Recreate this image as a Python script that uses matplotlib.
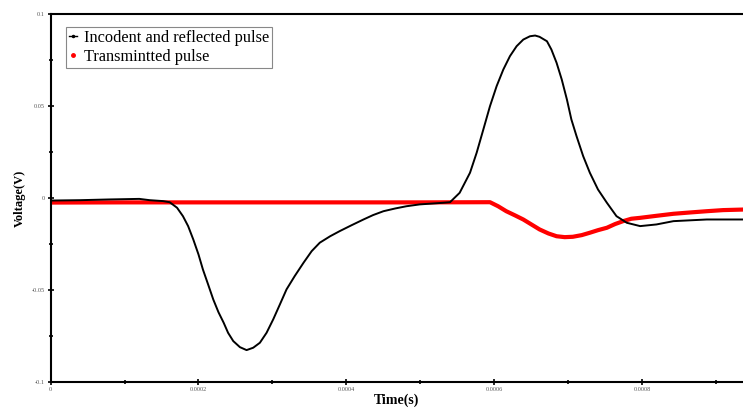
import numpy as np
import matplotlib
matplotlib.use("Agg")
import matplotlib.pyplot as plt
from matplotlib.lines import Line2D

# =============================================================================
# datos
# =============================================================================
t_inc = [0.0, 0.00004, 0.00008, 0.00012, 0.000134, 0.000152, 0.000161, 0.000171,
         0.000179, 0.000186, 0.000193, 0.0002, 0.000206, 0.000213, 0.00022,
         0.000227, 0.000234, 0.00024, 0.000247, 0.000256, 0.000265, 0.000274,
         0.000283, 0.000292, 0.000301, 0.00031, 0.000319, 0.00033, 0.000342,
         0.000353, 0.000364, 0.000378, 0.000391, 0.000407, 0.000423, 0.000436,
         0.00045, 0.000466, 0.000481, 0.000499, 0.000517, 0.000531,
         0.00054, 0.000553, 0.000567, 0.000576, 0.000585, 0.000594, 0.000603,
         0.000612, 0.000621, 0.00063, 0.000639, 0.000648, 0.000655, 0.000661,
         0.000671, 0.000677, 0.000684, 0.000691, 0.000698, 0.000704, 0.000711,
         0.00072, 0.000729, 0.00074, 0.000752, 0.000765, 0.000779, 0.000797,
         0.000819, 0.000842, 0.000887, 0.000936]
v_inc = [-0.0014, -0.0012, -0.0008, -0.0005, -0.0012, -0.0017, -0.0023, -0.0053,
         -0.0099, -0.0153, -0.0226, -0.0307, -0.0389, -0.047, -0.0552,
         -0.0621, -0.0678, -0.0733, -0.0778, -0.0811, -0.0827, -0.0814,
         -0.0787, -0.0733, -0.066, -0.0579, -0.0497, -0.0425, -0.0352,
         -0.0289, -0.0243, -0.0208, -0.018, -0.0148, -0.0117, -0.0093,
         -0.0072, -0.0057, -0.0045, -0.0035, -0.003, -0.0026,
         -0.0023, 0.0028, 0.0137, 0.0246, 0.0372, 0.0499, 0.0608,
         0.0698, 0.0771, 0.0825, 0.0861, 0.0879, 0.0883, 0.0876,
         0.0852, 0.0807, 0.0735, 0.0644, 0.0535, 0.0427, 0.0336,
         0.0227, 0.0137, 0.0046, -0.0026, -0.0099, -0.0135, -0.0153,
         -0.0144, -0.0126, -0.0117, -0.0117]

t_tr = [0.0, 0.0001, 0.0002, 0.0003, 0.0004, 0.0005, 0.000594, 0.000605,
        0.000616, 0.000628, 0.000639, 0.00065, 0.000661, 0.000673, 0.000684,
        0.000695, 0.000706, 0.000718, 0.000729, 0.00074, 0.000752, 0.000763,
        0.000774, 0.000785, 0.000797, 0.000819, 0.000842, 0.000864, 0.000887,
        0.000909, 0.000936]
v_tr = [-0.0025, -0.0024, -0.0024, -0.0024, -0.0024, -0.0024, -0.0023, -0.0045,
        -0.0072, -0.0095, -0.0117, -0.0144, -0.0171, -0.0193, -0.0208,
        -0.0213, -0.0211, -0.0202, -0.0189, -0.0175, -0.0162, -0.0142,
        -0.0126, -0.0113, -0.0108, -0.0097, -0.0086, -0.0079, -0.0072,
        -0.0066, -0.0063]

xticks = [0, 0.0002, 0.0004, 0.0006, 0.0008]
xlabels = ['0', '0.0002', '0.0004', '0.0006', '0.0008']
yticks = [-0.1, -0.05, 0, 0.05, 0.1]
ylabels = ['-0.1', '-0.05', '0', '0.05', '0.1']

# =============================================================================
# grafica
# =============================================================================
plt.rcParams['font.family'] = ['Liberation Serif', 'DejaVu Serif']

fig = plt.figure(figsize=(7.43, 4.12), dpi=100)
ax = fig.add_axes([0.068, 0.073, 0.932, 0.893])

ax.plot(t_tr, v_tr, color='red', linewidth=3)
ax.plot(t_inc, v_inc, color='black', linewidth=1.4)

ax.set_xlim(0, 0.000936)
ax.set_ylim(-0.1, 0.1)
ax.set_xticks(xticks)
ax.set_xticklabels(xlabels)
ax.set_yticks(yticks)
ax.set_yticklabels(ylabels)
ax.set_xticks([0.0001, 0.0003, 0.0005, 0.0007, 0.0009], minor=True)
ax.set_yticks([-0.075, -0.025, 0.025, 0.075], minor=True)
ax.tick_params(which='both', direction='inout', length=4, width=1.2,
               labelsize=4.5, labelcolor='#555555', pad=2)
ax.tick_params(which='minor', length=3)

for s in ['left', 'bottom', 'top']:
    ax.spines[s].set_linewidth(1.5)
ax.spines['right'].set_visible(False)

ax.set_xlabel('Time(s)', fontsize=10, fontweight='bold', labelpad=1)
ax.set_ylabel('Voltage(V)', fontsize=9, fontweight='bold', labelpad=4)

handles = [Line2D([], [], color='black', linewidth=1, marker='.', markersize=3),
           Line2D([], [], color='red', linewidth=0, marker='.', markersize=5)]
leg = ax.legend(handles, ['Incodent and reflected pulse', 'Transmintted pulse'],
                loc='upper left', bbox_to_anchor=(0.022, 0.965), fontsize=11.8,
                handlelength=0.5, handletextpad=0.4, borderpad=0.2,
                labelspacing=0.15, fancybox=False, framealpha=1,
                edgecolor='#888888', borderaxespad=0)
leg.get_frame().set_linewidth(0.8)

fig.savefig('out.png', dpi=100)
